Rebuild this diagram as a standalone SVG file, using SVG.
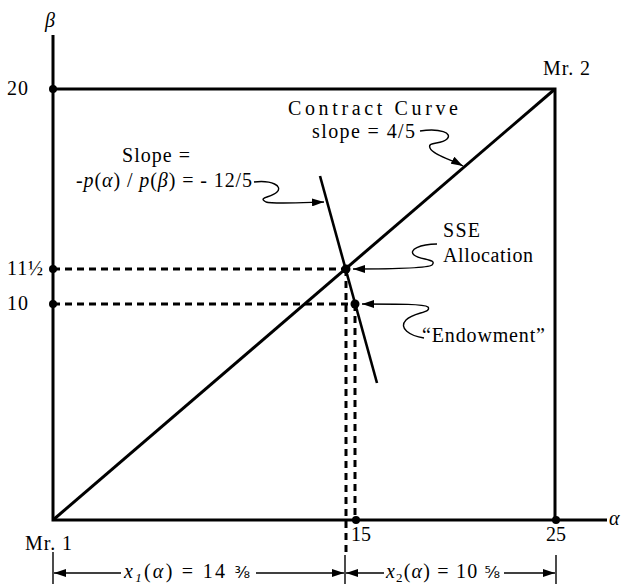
<svg xmlns="http://www.w3.org/2000/svg" width="622" height="584" viewBox="0 0 622 584">
<style>
  text { font-family: "Liberation Serif", "Times New Roman", serif; font-size: 20px; fill: #000; }
  .it { font-style: italic; }
  .frame { stroke: #000; stroke-width: 3; fill: none; }
  .solid { stroke: #000; stroke-width: 3; fill: none; }
  .budget { stroke: #000; stroke-width: 2.6; fill: none; }
  .dash { stroke: #000; stroke-width: 3; fill: none; stroke-dasharray: 7 5; }
  .squig { stroke: #000; stroke-width: 1.4; fill: none; marker-end: url(#ah); }
  .dim { stroke: #000; stroke-width: 1.4; fill: none; }
  .dimA { stroke: #000; stroke-width: 1.4; fill: none; marker-end: url(#ah); }
  .dot { fill: #000; }
</style>
<defs>
  <marker id="ah" markerUnits="userSpaceOnUse" markerWidth="12" markerHeight="8" refX="12" refY="4" orient="auto">
    <path d="M0,0 L12,4 L0,8 z" fill="#000"/>
  </marker>
</defs>
<rect width="622" height="584" fill="#fff"/>

<g id="axes">
  <path class="frame" d="M53,35 L53,520 L607,520"/>
  <path class="frame" d="M53,89 L555,89 L555,520"/>
</g>

<g id="connectors">
  <path id="contract-curve" class="solid" d="M53,520 L555,89"/>
  <path id="budget-line" class="budget" d="M320,176 L377,383"/>
  <path class="dash" d="M53,269 L346,269"/>
  <path class="dash" d="M53,304 L355,304"/>
  <path class="dash" d="M346,269 L346,552"/>
  <path class="dash" d="M355,304 L355,520"/>
  <path class="squig" d="M420,131 C440,128 453,133 447,139 C441,145 427,141 430,148 C433,155 452,160 463,166"/>
  <path class="squig" d="M254,182 C272,180 283,186 277,192 C271,198 257,197 266,202 C272,204 292,203 324,202"/>
  <path class="squig" d="M437,244 C420,244 408,250 414,255 C420,260 438,259 432,265 C428,268 400,269 353,269"/>
  <path class="squig" d="M424,338 C410,336 398,328 406,320 C414,312 432,313 428,307 C424,304 400,304 362,304"/>
  <path class="dim" d="M53,552 L53,584 M345,555 L345,584 M556,555 L556,584"/>
  <path class="dimA" d="M121,573 L54,573"/>
  <path class="dimA" d="M256,573 L344,573"/>
  <path class="dimA" d="M384,573 L346,573"/>
  <path class="dimA" d="M504,573 L555,573"/>
</g>

<g id="node-20"><circle class="dot" cx="53" cy="89" r="4"/><text x="7" y="95" textLength="21" lengthAdjust="spacing">20</text></g>
<g id="node-11half"><circle class="dot" cx="53" cy="269" r="4"/><text x="7" y="275" textLength="36" lengthAdjust="spacing">11½</text></g>
<g id="node-10"><circle class="dot" cx="53" cy="304" r="4"/><text x="7" y="310" textLength="21" lengthAdjust="spacing">10</text></g>
<g id="node-15"><circle class="dot" cx="356" cy="520" r="4"/><text x="351" y="541">15</text></g>
<g id="node-25"><circle class="dot" cx="556" cy="520" r="4"/><text x="546" y="541">25</text></g>
<g id="node-sse"><circle class="dot" cx="346" cy="269" r="4.5"/><text x="443" y="237" textLength="37" lengthAdjust="spacing">SSE</text><text x="443" y="262" textLength="90" lengthAdjust="spacing">Allocation</text></g>
<g id="node-endowment"><circle class="dot" cx="355" cy="304" r="4.5"/><text x="422" y="342" textLength="123" lengthAdjust="spacing">“Endowment”</text></g>
<g id="node-mr1"><text x="25" y="550" textLength="47" lengthAdjust="spacing">Mr. 1</text></g>
<g id="node-mr2"><text x="543" y="75" textLength="47" lengthAdjust="spacing">Mr. 2</text></g>
<g id="label-beta"><text class="it" x="45" y="27">β</text></g>
<g id="label-alpha"><text class="it" x="609" y="525">α</text></g>
<g id="label-contract"><text x="288" y="115" textLength="170" lengthAdjust="spacing">Contract Curve</text><text x="312" y="138" textLength="103" lengthAdjust="spacing">slope =  4/5</text></g>
<g id="label-slope"><text x="122" y="162" textLength="68" lengthAdjust="spacing">Slope =</text><text x="76" y="187" textLength="176" lengthAdjust="spacing">-<tspan class="it">p</tspan>(<tspan class="it">α</tspan>) / <tspan class="it">p</tspan>(<tspan class="it">β</tspan>) = - 12/5</text></g>
<g id="label-x1"><text x="124" y="578" textLength="126" lengthAdjust="spacing"><tspan class="it">x</tspan><tspan class="it" font-size="13" dy="4">1</tspan><tspan dy="-4">(</tspan><tspan class="it">α</tspan>) = 14 <tspan font-family="DejaVu Sans, sans-serif" font-size="16">⅜</tspan></text></g>
<g id="label-x2"><text x="386" y="578" textLength="114" lengthAdjust="spacing"><tspan class="it">x</tspan><tspan font-size="13" dy="4">2</tspan><tspan dy="-4">(</tspan><tspan class="it">α</tspan>) = 10 <tspan font-family="DejaVu Sans, sans-serif" font-size="16">⅝</tspan></text></g>
</svg>
